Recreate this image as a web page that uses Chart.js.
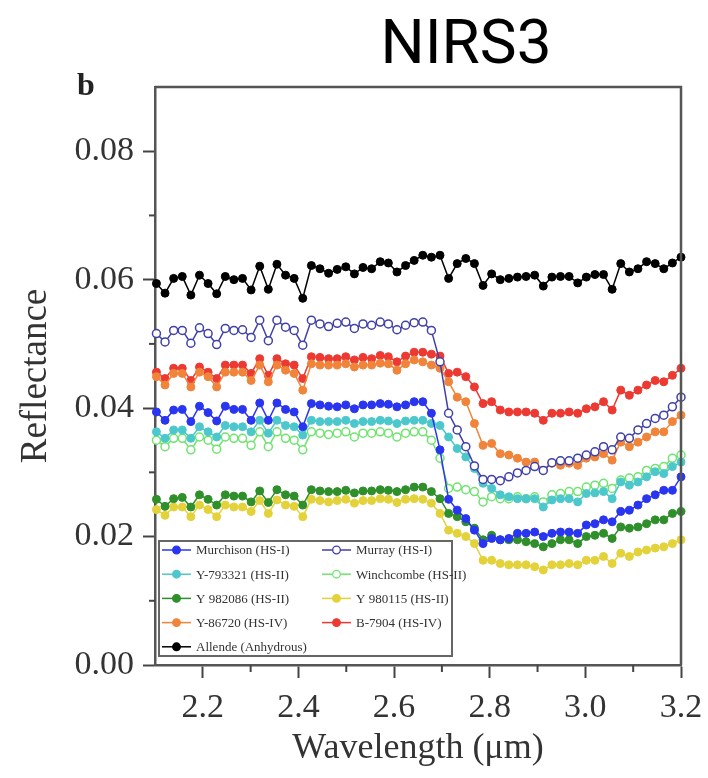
<!DOCTYPE html>
<html>
<head>
<meta charset="utf-8">
<script src="https://cdn.jsdelivr.net/npm/chart.js@4.4.1/dist/chart.umd.min.js"></script>
<style>
  html, body { margin: 0; padding: 0; background: #fff; }
  #myChart { display: block; }
</style>
</head>
<body>
<canvas id="myChart" width="708" height="778"></canvas>
<script>
  // wavelength channels (um)
  const wavelength = [
    2.103, 2.121, 2.139, 2.157, 2.175, 2.193, 2.211, 2.229, 2.247, 2.265,
    2.283, 2.301, 2.319, 2.337, 2.355, 2.373, 2.391, 2.409, 2.427, 2.445,
    2.463, 2.481, 2.499, 2.517, 2.535, 2.553, 2.571, 2.588, 2.606, 2.624,
    2.642, 2.660, 2.678, 2.696, 2.714, 2.732, 2.750, 2.768, 2.786, 2.804,
    2.822, 2.840, 2.858, 2.876, 2.894, 2.912, 2.930, 2.948, 2.966, 2.984,
    3.002, 3.020, 3.038, 3.056, 3.074, 3.092, 3.110, 3.128, 3.146, 3.164,
    3.182, 3.200
  ];

  const murchison = [
    0.0394, 0.0381, 0.0397, 0.0398, 0.0379, 0.0403, 0.0393, 0.0380, 0.0403, 0.0398,
    0.0398, 0.0381, 0.0408, 0.0381, 0.0408, 0.0398, 0.0394, 0.0371, 0.0407, 0.0405,
    0.0403, 0.0402, 0.0405, 0.0399, 0.0405, 0.0405, 0.0407, 0.0406, 0.0402, 0.0405,
    0.0410, 0.0410, 0.0392, 0.0335, 0.0258, 0.0241, 0.0228, 0.0210, 0.0189, 0.0197,
    0.0195, 0.0197, 0.0205, 0.0205, 0.0207, 0.0200, 0.0205, 0.0207, 0.0207, 0.0205,
    0.0218, 0.0220, 0.0226, 0.0223, 0.0239, 0.0241, 0.0249, 0.0259, 0.0265, 0.0272,
    0.0272, 0.0293
  ];
  const murray = [
    0.0516, 0.0503, 0.0521, 0.0521, 0.0501, 0.0525, 0.0516, 0.0499, 0.0524, 0.0521,
    0.0522, 0.0510, 0.0537, 0.0505, 0.0537, 0.0526, 0.0521, 0.0498, 0.0537, 0.0531,
    0.0527, 0.0532, 0.0534, 0.0524, 0.0531, 0.0529, 0.0534, 0.0531, 0.0522, 0.0529,
    0.0533, 0.0534, 0.0521, 0.0472, 0.0392, 0.0366, 0.0340, 0.0310, 0.0289, 0.0289,
    0.0287, 0.0293, 0.0299, 0.0303, 0.0309, 0.0303, 0.0315, 0.0318, 0.0318, 0.0322,
    0.0327, 0.0332, 0.0340, 0.0335, 0.0355, 0.0353, 0.0366, 0.0376, 0.0384, 0.0389,
    0.0402, 0.0417
  ];
  const y793321 = [
    0.0363, 0.0353, 0.0366, 0.0366, 0.0353, 0.0371, 0.0363, 0.0355, 0.0373, 0.0371,
    0.0371, 0.0363, 0.0381, 0.0361, 0.0381, 0.0373, 0.0371, 0.0358, 0.0381, 0.0379,
    0.0379, 0.0379, 0.0381, 0.0376, 0.0379, 0.0379, 0.0381, 0.0380, 0.0376, 0.0380,
    0.0381, 0.0381, 0.0376, 0.0373, 0.0355, 0.0337, 0.0324, 0.0306, 0.0283, 0.0275,
    0.0265, 0.0262, 0.0259, 0.0259, 0.0259, 0.0246, 0.0257, 0.0259, 0.0259, 0.0254,
    0.0267, 0.0268, 0.0270, 0.0259, 0.0285, 0.0280, 0.0285, 0.0293, 0.0301, 0.0298,
    0.0309, 0.0316
  ];
  const winchcombe = [
    0.0350, 0.0340, 0.0353, 0.0353, 0.0335, 0.0355, 0.0350, 0.0336, 0.0355, 0.0353,
    0.0353, 0.0342, 0.0363, 0.0340, 0.0363, 0.0353, 0.0350, 0.0335, 0.0363, 0.0361,
    0.0359, 0.0361, 0.0363, 0.0355, 0.0361, 0.0361, 0.0363, 0.0361, 0.0355, 0.0361,
    0.0363, 0.0363, 0.0350, 0.0322, 0.0275, 0.0277, 0.0273, 0.0270, 0.0254, 0.0262,
    0.0259, 0.0259, 0.0262, 0.0259, 0.0262, 0.0254, 0.0265, 0.0267, 0.0270, 0.0270,
    0.0277, 0.0280, 0.0283, 0.0275, 0.0288, 0.0291, 0.0293, 0.0303, 0.0306, 0.0309,
    0.0322, 0.0327
  ];
  const y982086 = [
    0.0258, 0.0247, 0.0259, 0.0261, 0.0246, 0.0265, 0.0258, 0.0249, 0.0265, 0.0263,
    0.0263, 0.0254, 0.0271, 0.0253, 0.0273, 0.0265, 0.0263, 0.0249, 0.0273, 0.0271,
    0.0270, 0.0270, 0.0272, 0.0268, 0.0271, 0.0271, 0.0273, 0.0272, 0.0270, 0.0273,
    0.0277, 0.0277, 0.0270, 0.0259, 0.0236, 0.0231, 0.0223, 0.0213, 0.0195, 0.0202,
    0.0195, 0.0195, 0.0195, 0.0192, 0.0189, 0.0184, 0.0189, 0.0195, 0.0195, 0.0189,
    0.0200, 0.0202, 0.0205, 0.0197, 0.0215, 0.0213, 0.0215, 0.0220, 0.0226, 0.0226,
    0.0236, 0.0239
  ];
  const y980115 = [
    0.0242, 0.0233, 0.0246, 0.0246, 0.0231, 0.0249, 0.0242, 0.0231, 0.0249, 0.0246,
    0.0246, 0.0239, 0.0256, 0.0236, 0.0257, 0.0249, 0.0247, 0.0231, 0.0258, 0.0256,
    0.0254, 0.0256, 0.0258, 0.0252, 0.0256, 0.0256, 0.0259, 0.0258, 0.0253, 0.0258,
    0.0259, 0.0258, 0.0252, 0.0236, 0.0210, 0.0205, 0.0200, 0.0189, 0.0163, 0.0163,
    0.0158, 0.0156, 0.0156, 0.0156, 0.0153, 0.0148, 0.0156, 0.0156, 0.0158, 0.0156,
    0.0163, 0.0163, 0.0169, 0.0158, 0.0174, 0.0169, 0.0176, 0.0179, 0.0182, 0.0184,
    0.0189, 0.0195
  ];
  const y86720 = [
    0.0449, 0.0436, 0.0454, 0.0454, 0.0433, 0.0456, 0.0449, 0.0433, 0.0456, 0.0456,
    0.0456, 0.0443, 0.0467, 0.0441, 0.0467, 0.0459, 0.0454, 0.0428, 0.0469, 0.0467,
    0.0467, 0.0467, 0.0469, 0.0464, 0.0467, 0.0467, 0.0470, 0.0469, 0.0459, 0.0469,
    0.0475, 0.0472, 0.0467, 0.0462, 0.0441, 0.0417, 0.0410, 0.0376, 0.0342, 0.0345,
    0.0329, 0.0327, 0.0322, 0.0316, 0.0316, 0.0303, 0.0314, 0.0311, 0.0314, 0.0311,
    0.0322, 0.0324, 0.0329, 0.0319, 0.0347, 0.0340, 0.0347, 0.0355, 0.0363, 0.0363,
    0.0379, 0.0389
  ];
  const b7904 = [
    0.0456, 0.0446, 0.0462, 0.0462, 0.0443, 0.0464, 0.0456, 0.0446, 0.0467, 0.0467,
    0.0467, 0.0454, 0.0477, 0.0451, 0.0477, 0.0469, 0.0467, 0.0446, 0.0480, 0.0479,
    0.0477, 0.0477, 0.0480, 0.0475, 0.0479, 0.0477, 0.0482, 0.0480, 0.0472, 0.0481,
    0.0487, 0.0487, 0.0484, 0.0481, 0.0454, 0.0456, 0.0449, 0.0433, 0.0407, 0.0410,
    0.0397, 0.0394, 0.0394, 0.0394, 0.0392, 0.0381, 0.0392, 0.0392, 0.0394, 0.0392,
    0.0399, 0.0402, 0.0410, 0.0397, 0.0428, 0.0420, 0.0428, 0.0436, 0.0443, 0.0441,
    0.0451, 0.0462
  ];
  const allende = [
    0.0594, 0.0579, 0.0602, 0.0605, 0.0576, 0.0607, 0.0594, 0.0578, 0.0605, 0.0600,
    0.0602, 0.0584, 0.0621, 0.0585, 0.0624, 0.0607, 0.0602, 0.0571, 0.0622, 0.0617,
    0.0610, 0.0616, 0.0620, 0.0609, 0.0619, 0.0617, 0.0628, 0.0626, 0.0612, 0.0622,
    0.0630, 0.0638, 0.0635, 0.0638, 0.0602, 0.0625, 0.0633, 0.0625, 0.0591, 0.0609,
    0.0600, 0.0602, 0.0604, 0.0605, 0.0607, 0.0590, 0.0604, 0.0605, 0.0605, 0.0595,
    0.0604, 0.0608, 0.0608, 0.0585, 0.0625, 0.0612, 0.0617, 0.0628, 0.0625, 0.0617,
    0.0626, 0.0635
  ];

  const xMinorTicks = [2.3, 2.5, 2.7, 2.9, 3.1];
  const yMinorTicks = [0.01, 0.03, 0.05, 0.07];

  const serif = '"Liberation Serif", "Times New Roman", serif';

  function pts(values) {
    return wavelength.map((w, i) => ({ x: w, y: values[i] }));
  }

  function series(label, values, color, open) {
    return {
      label: label,
      data: pts(values),
      borderColor: color,
      backgroundColor: color,
      borderWidth: 1.5,
      pointRadius: 4,
      pointBorderWidth: open ? 1.5 : 1,
      pointBackgroundColor: open ? '#ffffff' : color,
      pointBorderColor: color,
      tension: 0,
      clip: false
    };
  }

  const data = {
    datasets: [
      series('Murchison (HS-I)', murchison, '#2a35f0', false),
      series('Murray (HS-I)', murray, '#4040a8', true),
      series('Y-793321 (HS-II)', y793321, '#4cc8cc', false),
      series('Winchcombe (HS-II)', winchcombe, '#6fe46f', true),
      series('Y 982086 (HS-II)', y982086, '#2f8f2a', false),
      series('Y 980115 (HS-II)', y980115, '#e3d23a', false),
      series('Y-86720 (HS-IV)', y86720, '#f0843a', false),
      series('B-7904 (HS-IV)', b7904, '#ec3a33', false),
      series('Allende (Anhydrous)', allende, '#000000', false)
    ]
  };

  // frame, minor ticks, legend box, titles
  const decor = {
    id: 'decor',
    afterDraw(chart) {
      const ctx = chart.ctx;
      const a = chart.chartArea;
      const xs = chart.scales.x;
      const ys = chart.scales.y;
      ctx.save();

      ctx.strokeStyle = '#555';
      ctx.lineWidth = 2.5;
      ctx.beginPath();
      ctx.moveTo(a.left, a.top);
      ctx.lineTo(a.right, a.top);
      ctx.lineTo(a.right, a.bottom);
      ctx.stroke();

      ctx.lineWidth = 2;
      ctx.strokeStyle = '#444';
      xMinorTicks.forEach(v => {
        const px = xs.getPixelForValue(v);
        ctx.beginPath();
        ctx.moveTo(px, a.bottom);
        ctx.lineTo(px, a.bottom + 7);
        ctx.stroke();
      });
      yMinorTicks.forEach(v => {
        const py = ys.getPixelForValue(v);
        ctx.beginPath();
        ctx.moveTo(a.left, py);
        ctx.lineTo(a.left - 6, py);
        ctx.stroke();
      });

      // legend
      const bx = 159, by = 541, bw = 293, bh = 115;
      ctx.fillStyle = '#fff';
      ctx.fillRect(bx, by, bw, bh);
      ctx.strokeStyle = '#666';
      ctx.lineWidth = 2;
      ctx.strokeRect(bx, by, bw, bh);

      ctx.font = '13px ' + serif;
      ctx.textBaseline = 'middle';
      ctx.textAlign = 'left';
      chart.data.datasets.forEach((ds, i) => {
        const col = i % 2;
        const row = Math.floor(i / 2);
        const x0 = col === 0 ? 162 : 322;
        const y0 = 550 + row * 24.2;
        ctx.strokeStyle = ds.borderColor;
        ctx.lineWidth = 1.5;
        ctx.beginPath();
        ctx.moveTo(x0, y0);
        ctx.lineTo(x0 + 29, y0);
        ctx.stroke();
        ctx.beginPath();
        ctx.arc(x0 + 14.5, y0, 3.8, 0, Math.PI * 2);
        ctx.fillStyle = ds.pointBackgroundColor;
        ctx.fill();
        ctx.lineWidth = 1.3;
        ctx.stroke();
        ctx.fillStyle = '#333';
        ctx.fillText(ds.label, x0 + 34, y0 + 1);
      });

      ctx.fillStyle = '#000';
      ctx.font = '62px Roboto, "Noto Sans", sans-serif';
      ctx.textAlign = 'center';
      ctx.textBaseline = 'alphabetic';
      ctx.fillText('NIRS3', 466, 63);

      ctx.font = 'bold 32px ' + serif;
      ctx.textAlign = 'left';
      ctx.fillStyle = '#222';
      ctx.fillText('b', 77, 95);
      ctx.restore();
    }
  };

  const config = {
    type: 'line',
    data: data,
    options: {
      responsive: false,
      animation: false,
      layout: {
        autoPadding: false,
        padding: { top: 87, right: 27, bottom: 0, left: 0 }
      },
      plugins: {
        legend: { display: false },
        tooltip: { enabled: false }
      },
      scales: {
        x: {
          type: 'linear',
          min: 2.1,
          max: 3.2,
          afterFit: s => { s.height = 113; s.paddingRight = 24; },
          border: { display: true, color: '#555', width: 2.5 },
          grid: {
            drawOnChartArea: false,
            drawTicks: true,
            tickLength: 13,
            tickColor: '#444',
            tickWidth: 2
          },
          ticks: {
            stepSize: 0.2,
            includeBounds: false,
            autoSkip: false,
            maxRotation: 0,
            padding: 10,
            color: '#333',
            font: { family: serif, size: 34 },
            callback: v => v.toFixed(1)
          },
          title: {
            display: true,
            text: 'Wavelength (μm)',
            color: '#333',
            font: { family: serif, size: 36 },
            padding: { top: 0, bottom: 8 }
          }
        },
        y: {
          min: 0,
          max: 0.09,
          afterFit: s => { s.width = 155; },
          border: { display: true, color: '#555', width: 2.5 },
          grid: {
            drawOnChartArea: false,
            drawTicks: true,
            tickLength: 12,
            tickColor: '#444',
            tickWidth: 2
          },
          ticks: {
            stepSize: 0.02,
            includeBounds: false,
            padding: 9,
            color: '#333',
            font: { family: serif, size: 34 },
            callback: v => v.toFixed(2)
          },
          title: {
            display: true,
            text: 'Reflectance',
            color: '#333',
            font: { family: serif, size: 37 },
            padding: { top: 14, bottom: 0 }
          }
        }
      }
    },
    plugins: [decor]
  };

  var myChart = new Chart(
    document.getElementById('myChart'),
    config
  );
</script>
</body>
</html>
